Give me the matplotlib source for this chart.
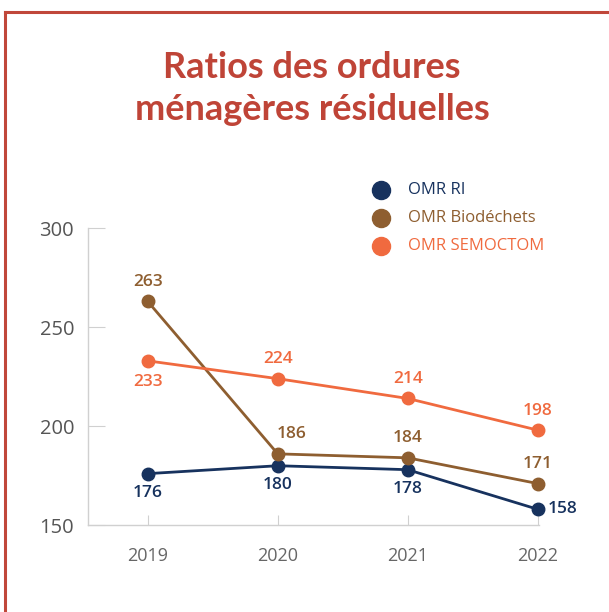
import matplotlib.pyplot as plt
from matplotlib.lines import Line2D

years = [2019, 2020, 2021, 2022]
omr_ri = [176, 180, 178, 158]
omr_bio = [263, 186, 184, 171]
omr_semoctom = [233, 224, 214, 198]
series_names = ['OMR RI', 'OMR Biodéchets', 'OMR SEMOCTOM']
colors = ['#17325E', '#8E5E30', '#F06A3F']

# label placement per point: (dx, dy) in points
ri_offsets = [(0, -14), (0, -14), (0, -14), (18, 0)]
bio_offsets = [(0, 14), (10, 14), (0, 14), (0, 14)]
sem_offsets = [(0, -15), (0, 14), (0, 14), (0, 14)]

plt.rcParams['font.family'] = ['Open Sans', 'DejaVu Sans']

fig = plt.figure(figsize=(6.09, 6.12), dpi=100)
ax = fig.add_axes([0.1445, 0.142, 0.7405, 0.485])

all_series = [omr_ri, omr_bio, omr_semoctom]
all_offsets = [ri_offsets, bio_offsets, sem_offsets]
for vals, col, offs in zip(all_series, colors, all_offsets):
    ax.plot(years, vals, color=col, lw=2, marker='o', ms=9, clip_on=False, zorder=3)
    for x, v, (dx, dy) in zip(years, vals, offs):
        ax.annotate(str(v), (x, v), xytext=(dx, dy), textcoords='offset points',
                    ha='center', va='center', color=col, fontsize=12.5,
                    fontweight='semibold', annotation_clip=False)

ax.set_xlim(2018.54, 2022.01)
ax.set_ylim(150, 300)
ax.set_yticks([150, 200, 250, 300])
ax.set_xticks(years)
for s in ['top', 'right']:
    ax.spines[s].set_visible(False)
for s in ['left', 'bottom']:
    ax.spines[s].set_color('#d0d0d0')
    ax.spines[s].set_linewidth(1)
ax.tick_params(axis='y', direction='in', length=12, color='#d0d0d0', labelsize=14.5,
               labelcolor='#555555', pad=10)
ax.tick_params(axis='x', direction='in', length=7, color='#d0d0d0', labelsize=13,
               labelcolor='#666666', pad=16)

# legend
for i, (name, col) in enumerate(zip(series_names, colors)):
    y = 1 - (190 + 28 * i) / 612
    fig.add_artist(Line2D([381 / 609], [y], marker='o', ms=13, color=col, lw=0))
    fig.text(408 / 609, y, name, color=col, fontsize=12, va='center', ha='left')

# title
fig.text(312 / 609, 1 - 67 / 612, 'Ratios des ordures', ha='center', va='center',
         fontsize=26, fontweight='bold', color='#BF4437', family=['Lato', 'DejaVu Sans'])
fig.text(312 / 609, 1 - 110 / 612, 'ménagères résiduelles', ha='center', va='center',
         fontsize=26, fontweight='bold', color='#BF4437', family=['Lato', 'DejaVu Sans'])

# frame
frame_col = '#C0473A'
fig.add_artist(Line2D([5 / 609, 5 / 609], [0, 1 - 12 / 612], color=frame_col, lw=2.2))
fig.add_artist(Line2D([5 / 609, 1], [1 - 12 / 612, 1 - 12 / 612], color=frame_col, lw=2.2))

fig.savefig('out.png', dpi=100)
